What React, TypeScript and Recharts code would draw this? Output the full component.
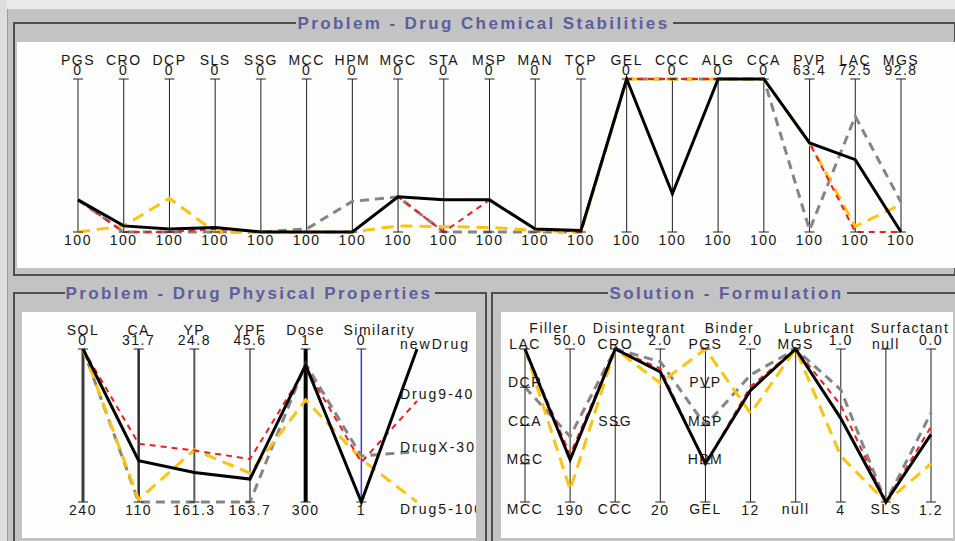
import React from "react";
import { LineChart, Line, XAxis, YAxis, ReferenceLine, ReferenceDot } from "recharts";

const FONT = '"Liberation Sans", Arial, Helvetica, sans-serif';
const BG = "#c3c3c3";
const FRAME = "#4e4e4e";
const TITLE = "#5d5f9c";
const INK = "#161616";

// ---- Problem - Drug Chemical Stabilities (values on each axis's own scale)
const stabAxes = ["PGS", "CRO", "DCP", "SLS", "SSG", "MCC", "HPM", "MGC", "STA", "MSP", "MAN", "TCP", "GEL", "CCC", "ALG", "CCA", "PVP", "LAC", "MGS"];
const stabTop = ["0", "0", "0", "0", "0", "0", "0", "0", "0", "0", "0", "0", "0", "0", "0", "0", "63.4", "72.5", "92.8"];
const stabBottom = ["100", "100", "100", "100", "100", "100", "100", "100", "100", "100", "100", "100", "100", "100", "100", "100", "100", "100", "100"];
const stabNewDrug = [79, 96, 98, 97, 100, 100, 100, 77, 79, 79, 98, 99, 0, 75, 0, 0, 78.7, 87, 100];
const stabDrug9 = [79, 100, 100, 98, 100, 100, 100, 77, 100, 79, 98, 100, 0, 0, 0, 0, 78.7, 100, 100];
const stabDrugX = [79, 100, 100, 100, 100, 98, 80, 77, 100, 100, 100, 100, 0, 0, 0, 0, 99.5, 79.2, 98.6];
const stabDrug5 = [100, 96, 78, 100, 100, 100, 100, 96, 96.5, 97, 99, 100, 0, 0, 0, 0, 78.7, 99, 98.7];

// ---- Problem - Drug Physical Properties
const physAxes = ["SOL", "CA", "YP", "YPF", "Dose", "Similarity"];
const physTop = ["0", "31.7", "24.8", "45.6", "1", "0"];
const physBottom = ["240", "110", "161.3", "163.7", "300", "1"];
const physNewDrug = [0, 88.9, 135, 146, 32, 1];
const physDrug9 = [0, 80.2, 115.3, 130.6, 38, 0.74];
const physDrugX = [0, 110, 161.3, 163.7, 30, 0.7];
const physDrug5 = [0, 108.8, 114.7, 141.4, 100.5, 0.72];
// rank position of each drug in the name column (0 = top, 1 = bottom)
const physNames = ["newDrug", "Drug9-40", "DrugX-30", "Drug5-100"];
const physRank = [0, 0.34, 0.67, 1];

// ---- Solution - Formulation
const formAxes = ["Filler", "FillerAmount", "Disintegrant", "DisintegrantAmount", "Binder", "BinderAmount", "Lubricant", "LubricantAmount", "Surfactant", "SurfactantAmount"];
const formGroups = ["Filler", "Disintegrant", "Binder", "Lubricant", "Surfactant"];
const fillerLevels = ["LAC", "DCP", "CCA", "MGC", "MCC"];
const disintegrantLevels = ["CRO", "SSG", "CCC"];
const binderLevels = ["PGS", "PVP", "MSP", "HPM", "GEL"];
const lubricantLevels = ["MGS", "null"];
const surfactantLevels = ["null", "SLS"];
const amountTop = ["50.0", "2.0", "2.0", "1.0", "0.0"];
const amountBottom = ["190", "20", "12", "4", "1.2"];
const formNewDrug = ["LAC", 151.4, "CRO", 4.7, "HPM", 4.7, "MGS", 2.36, "SLS", 0.67];
const formDrug9 = ["LAC", 146.7, "CRO", 4.3, "HPM", 4.45, "MGS", 2.1, "SLS", 0.61];
const formDrugX = ["DCP", 130, "CRO", 3.5, "MSP", 3.7, "MGS", 1.8, "SLS", 0.5];
const formDrug5 = ["LAC", 178.8, "CRO", 6.0, "PGS", 6.2, "MGS", 3.1, "SLS", 0.9];

const formLevels = [fillerLevels, disintegrantLevels, binderLevels, lubricantLevels, surfactantLevels];

const SERIES = [
  { key: "drugX", stroke: "#858585", width: 3, dash: "9 6" },
  { key: "drug5", stroke: "#ffc20e", width: 3, dash: "12 7" },
  { key: "drug9", stroke: "#f41d1d", width: 2, dash: "6 5" },
  { key: "newDrug", stroke: "#000000", width: 3, dash: undefined as string | undefined },
];

// thickness / colour of the physical property axes, and name offsets
const PHYS_AXIS = [
  { stroke: "#3c3c3c", width: 3 },
  { stroke: "#2c2c2c", width: 2.5 },
  { stroke: "#555555", width: 2 },
  { stroke: "#333333", width: 1.3 },
  { stroke: "#000000", width: 4 },
  { stroke: "#3a3aff", width: 1.5 },
];
const PHYS_NAME_DX = [0, 0, 0, 0, 0, 18];

const norm = (v: number, top: string | number, bottom: string | number) =>
  (v - Number(top)) / (Number(bottom) - Number(top));

const stabRows = stabAxes.map((axis, i) => ({
  axis,
  newDrug: norm(stabNewDrug[i], stabTop[i], stabBottom[i]),
  drug9: norm(stabDrug9[i], stabTop[i], stabBottom[i]),
  drugX: norm(stabDrugX[i], stabTop[i], stabBottom[i]),
  drug5: norm(stabDrug5[i], stabTop[i], stabBottom[i]),
}));

const physRows = [
  ...physAxes.map((axis, i) => ({
    axis,
    newDrug: norm(physNewDrug[i], physTop[i], physBottom[i]),
    drug9: norm(physDrug9[i], physTop[i], physBottom[i]),
    drugX: norm(physDrugX[i], physTop[i], physBottom[i]),
    drug5: norm(physDrug5[i], physTop[i], physBottom[i]),
  })),
  { axis: "names", newDrug: physRank[0], drug9: physRank[1], drugX: physRank[2], drug5: physRank[3] },
];

const formPos = (vals: (string | number)[]) =>
  vals.map((v, i) => {
    const g = Math.floor(i / 2);
    if (i % 2 === 0) return formLevels[g].indexOf(v as string) / (formLevels[g].length - 1);
    return norm(v as number, amountTop[g], amountBottom[g]);
  });

const formNewPos = formPos(formNewDrug);
const form9Pos = formPos(formDrug9);
const formXPos = formPos(formDrugX);
const form5Pos = formPos(formDrug5);
const formRows = formAxes.map((axis, i) => ({
  axis,
  newDrug: formNewPos[i],
  drug9: form9Pos[i],
  drugX: formXPos[i],
  drug5: form5Pos[i],
}));

const txt = { fontFamily: FONT, fontSize: 14, fill: INK, letterSpacing: 1.5 };

const tickMark = (x: number, y: number, stroke = "#222", w = 1) => (
  <line x1={x - 5} x2={x + 5} y1={y} y2={y} stroke={stroke} strokeWidth={w} />
);

const makeTopTick = (names: string[], tops: string[], dx?: number[]) => (props: any) => {
  const { x, y, payload } = props;
  const i = names.indexOf(payload.value);
  if (i < 0) return <g />;
  return (
    <g>
      {tickMark(x, y)}
      <text x={x + (dx ? dx[i] : 0)} y={y - 14} textAnchor="middle" {...txt}>{names[i]}</text>
      <text x={x} y={y - 4} textAnchor="middle" {...txt}>{tops[i]}</text>
    </g>
  );
};

const makeBottomTick = (names: string[], bottoms: string[]) => (props: any) => {
  const { x, y, payload } = props;
  const i = names.indexOf(payload.value);
  if (i < 0) return <g />;
  return (
    <g>
      {tickMark(x, y)}
      <text x={x} y={y + 13} textAnchor="middle" {...txt}>{bottoms[i]}</text>
    </g>
  );
};

const formTopTick = (props: any) => {
  const { x, y, payload } = props;
  const i = formAxes.indexOf(payload.value);
  const g = Math.floor(i / 2);
  if (i % 2 === 0) {
    return <text x={x + 24} y={y - 16} textAnchor="middle" {...txt}>{formGroups[g]}</text>;
  }
  return (
    <g>
      {tickMark(x, y)}
      <text x={x} y={y - 4} textAnchor="middle" {...txt}>{amountTop[g]}</text>
    </g>
  );
};

const formBottomTick = (props: any) => {
  const { x, y, payload } = props;
  const i = formAxes.indexOf(payload.value);
  if (i % 2 === 0) return <g />;
  return (
    <g>
      {tickMark(x, y)}
      <text x={x} y={y + 13} textAnchor="middle" {...txt}>{amountBottom[Math.floor(i / 2)]}</text>
    </g>
  );
};

const renderLines = () =>
  SERIES.map((s) => (
    <Line
      key={s.key}
      xAxisId="bot"
      dataKey={s.key}
      type="linear"
      stroke={s.stroke}
      strokeWidth={s.width}
      strokeDasharray={s.dash}
      dot={false}
      activeDot={false}
      isAnimationActive={false}
    />
  ));

const axesPair = (topTick: any, bottomTick: any) => [
  <XAxis key="t" xAxisId="top" orientation="top" dataKey="axis" type="category" scale="point" height={30} interval={0} axisLine={false} tickLine={false} tickSize={0} tickMargin={0} tick={topTick} />,
  <XAxis key="b" xAxisId="bot" orientation="bottom" dataKey="axis" type="category" scale="point" height={30} interval={0} axisLine={false} tickLine={false} tickSize={0} tickMargin={0} tick={bottomTick} />,
  <YAxis key="y" hide type="number" domain={[0, 1]} reversed />,
];

function StabilityChart() {
  return (
    <LineChart width={938} height={226} data={stabRows} margin={{ top: 7, right: 54, bottom: 6, left: 61 }}>
      {axesPair(makeTopTick(stabAxes, stabTop), makeBottomTick(stabAxes, stabBottom))}
      {stabAxes.map((a) => (
        <ReferenceLine key={a} xAxisId="bot" x={a} stroke="#1e1e1e" strokeWidth={1} />
      ))}
      {renderLines()}
    </LineChart>
  );
}

function PhysicalChart() {
  return (
    <LineChart width={454} height={226} data={physRows} margin={{ top: 7, right: 59, bottom: 6, left: 61 }}>
      {axesPair(makeTopTick(physAxes, physTop, PHYS_NAME_DX), makeBottomTick(physAxes, physBottom))}
      {physAxes.map((a, i) => (
        <ReferenceLine key={a} xAxisId="bot" x={a} stroke={PHYS_AXIS[i].stroke} strokeWidth={PHYS_AXIS[i].width} />
      ))}
      {renderLines()}
      {physNames.map((name, i) => (
        <ReferenceDot
          key={name}
          xAxisId="bot"
          x="names"
          y={physRank[i]}
          r={1}
          ifOverflow="visible"
          shape={(p: any) => (
            <text x={p.cx - 17} y={p.cy + (physRank[i] === 1 ? 12 : i === 1 ? -2 : 0)} {...txt} letterSpacing={2}>{name}</text>
          )}
        />
      ))}
    </LineChart>
  );
}

function FormulationChart() {
  return (
    <LineChart width={452} height={226} data={formRows} margin={{ top: 7, right: 22, bottom: 6, left: 24 }}>
      {axesPair(formTopTick, formBottomTick)}
      {formAxes.map((a) => (
        <ReferenceLine key={a} xAxisId="bot" x={a} stroke="#1e1e1e" strokeWidth={1} />
      ))}
      {formLevels.flatMap((levels, g) =>
        levels.map((name, k) => {
          const last = k === levels.length - 1;
          return (
            <ReferenceDot
              key={`${g}-${k}`}
              xAxisId="bot"
              x={formAxes[g * 2]}
              y={k / (levels.length - 1)}
              r={1}
              ifOverflow="visible"
              shape={(p: any) => (
                <g>
                  {tickMark(p.cx, p.cy)}
                  <text x={p.cx} y={p.cy + (last ? 12 : 0)} textAnchor="middle" {...txt}>{name}</text>
                </g>
              )}
            />
          );
        })
      )}
      {renderLines()}
    </LineChart>
  );
}

function Frame({ left, top, width, height }: { left: number; top: number; width: number; height: number }) {
  return (
    <div
      style={{
        position: "absolute",
        left,
        top,
        width,
        height,
        boxSizing: "border-box",
        border: `2px solid ${FRAME}`,
      }}
    />
  );
}

function Title({ text, left, width, top }: { text: string; left: number; width: number; top: number }) {
  return (
    <div
      style={{
        position: "absolute",
        left,
        width,
        top,
        textAlign: "center",
        lineHeight: "20px",
        fontSize: 17,
        fontWeight: "bold",
        letterSpacing: 2.4,
        color: TITLE,
        whiteSpace: "nowrap",
      }}
    >
      <span style={{ background: BG, padding: "0 3px 0 1px" }}>{text}</span>
    </div>
  );
}

function Plot({ left, top, width, height, children }: { left: number; top: number; width: number; height: number; children: React.ReactNode }) {
  return (
    <div style={{ position: "absolute", left, top, width, height, background: "#fefefe", overflow: "hidden" }}>
      {children}
    </div>
  );
}

export default function App() {
  return (
    <div
      style={{
        position: "absolute",
        left: 0,
        top: 0,
        width: 955,
        height: 541,
        overflow: "hidden",
        background: BG,
        fontFamily: FONT,
      }}
    >
      <div style={{ position: "absolute", left: 0, top: 0, width: 955, height: 9, background: "#e9e9e9" }} />
      <div style={{ position: "absolute", left: 0, top: 0, width: 7, height: 541, background: "#dedede" }} />
      <div style={{ position: "absolute", left: 7, top: 9, width: 1, height: 532, background: "#9c9c9c" }} />

      <Frame left={13} top={22} width={943} height={254} />
      <Plot left={17} top={42} width={938} height={226}>
        <StabilityChart />
      </Plot>
      <Title text="Problem - Drug Chemical Stabilities" left={13} width={943} top={14} />

      <Frame left={13} top={292} width={474} height={262} />
      <Plot left={22} top={312} width={454} height={226}>
        <PhysicalChart />
      </Plot>
      <Title text="Problem - Drug Physical Properties" left={13} width={474} top={284} />

      <Frame left={491} top={292} width={473} height={262} />
      <Plot left={501} top={312} width={452} height={226}>
        <FormulationChart />
      </Plot>
      <Title text="Solution - Formulation" left={491} width={473} top={284} />
    </div>
  );
}
